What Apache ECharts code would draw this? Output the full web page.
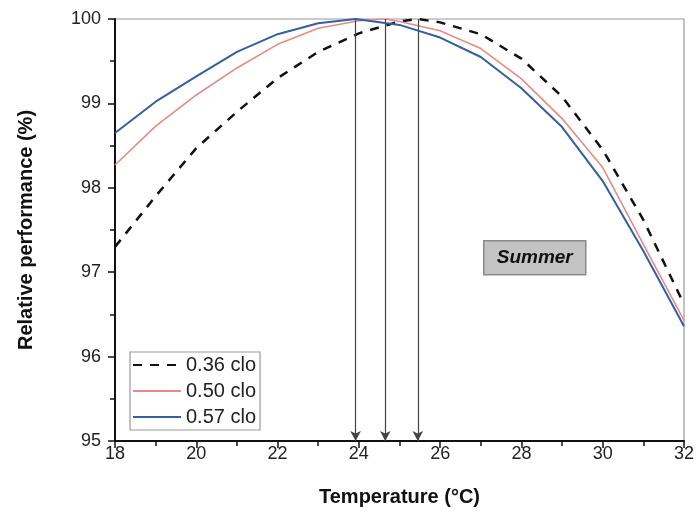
<!DOCTYPE html>
<html>
<head>
<meta charset="utf-8">
<script src="https://cdn.jsdelivr.net/npm/echarts@6/dist/echarts.min.js"></script>
<style>html,body{margin:0;padding:0;background:#fff}#c{width:699px;height:514px}</style>
</head>
<body>
<div id="c"></div>
<script>
var seriesNames = ['0.36 clo', '0.50 clo', '0.57 clo'];
var temps036 = [18, 19, 20, 21, 22, 23, 24, 25, 25.45, 26, 27, 28, 29, 30, 31, 32];
var perf036  = [97.30, 97.90, 98.47, 98.90, 99.30, 99.61, 99.83, 99.97, 100, 99.96, 99.82, 99.53, 99.08, 98.45, 97.62, 96.62];
var temps050 = [18, 19, 20, 21, 22, 23, 24, 24.65, 25, 26, 27, 28, 29, 30, 31, 32];
var perf050  = [98.27, 98.73, 99.10, 99.42, 99.70, 99.89, 99.98, 100, 99.97, 99.86, 99.65, 99.29, 98.82, 98.24, 97.33, 96.43];
var temps057 = [18, 19, 20, 21, 22, 23, 23.92, 25, 26, 27, 28, 29, 30, 31, 32];
var perf057  = [98.65, 99.02, 99.32, 99.61, 99.82, 99.95, 100, 99.93, 99.78, 99.55, 99.18, 98.72, 98.08, 97.25, 96.36];
var peakTemps = [25.45, 24.65, 23.92];
var annotationText = 'Summer';
var xTitle = 'Temperature (°C)';
var yTitle = 'Relative performance (%)';

function pairs(xs, ys) { return xs.map(function (x, i) { return [x, ys[i]]; }); }
function arrowLine(t) {
  return {
    silent: true,
    symbol: ['none', 'arrow'],
    symbolSize: [8, 10],
    label: { show: false },
    lineStyle: { color: '#444', width: 1.2, type: 'solid' },
    itemStyle: { color: '#222' },
    data: [[{ coord: [t, 100] }, { coord: [t, 95] }]]
  };
}

var FONT = 'Liberation Sans, Arial, sans-serif';
var chart = echarts.init(document.getElementById('c'), null, { renderer: 'canvas' });
chart.setOption({
  animation: false,
  backgroundColor: '#fff',
  grid: { left: 115, right: 15, top: 19, bottom: 73, show: true, borderColor: '#9a9a9a', borderWidth: 1.2, backgroundColor: 'transparent' },
  legend: {
    orient: 'vertical',
    left: 130, top: 352,
    data: seriesNames,
    itemWidth: 48, itemHeight: 14, itemGap: 6,
    padding: [3, 4, 3, 2],
    backgroundColor: '#fff',
    borderColor: '#9a9a9a', borderWidth: 1.2, borderRadius: 0,
    itemStyle: { opacity: 0 },
    textStyle: { fontFamily: FONT, fontSize: 20, color: '#222', lineHeight: 20, padding: [0, 0, 0, 0] }
  },
  xAxis: {
    type: 'value', min: 18, max: 32, interval: 2,
    name: xTitle, nameLocation: 'middle', nameGap: 46,
    nameTextStyle: { fontFamily: FONT, fontSize: 20, fontWeight: 'bold', color: '#111' },
    axisLine: { show: true, lineStyle: { color: '#111', width: 2 } },
    axisTick: { show: true, inside: false, length: 7, lineStyle: { color: '#111', width: 1.5 } },
    minorTick: { show: true, splitNumber: 2, length: 5, lineStyle: { color: '#111', width: 1.5 } },
    splitLine: { show: false },
    axisLabel: { fontFamily: FONT, fontSize: 18, color: '#222', margin: 4 }
  },
  yAxis: {
    type: 'value', min: 95, max: 100, interval: 1,
    name: yTitle, nameLocation: 'middle', nameGap: 79, nameRotate: 90,
    nameTextStyle: { fontFamily: FONT, fontSize: 20, fontWeight: 'bold', color: '#111' },
    axisLine: { show: true, lineStyle: { color: '#111', width: 2 } },
    axisTick: { show: true, inside: false, length: 7, lineStyle: { color: '#111', width: 1.5 } },
    minorTick: { show: true, splitNumber: 2, length: 5, lineStyle: { color: '#111', width: 1.5 } },
    splitLine: { show: false },
    axisLabel: { fontFamily: FONT, fontSize: 18, color: '#222', margin: 14 }
  },
  series: [
    {
      name: seriesNames[0], type: 'line', symbol: 'none', z: 3,
      data: pairs(temps036, perf036),
      lineStyle: { color: '#111', width: 2.5, type: [9, 8] },
      itemStyle: { color: '#111' },
      markLine: arrowLine(peakTemps[0])
    },
    {
      name: seriesNames[1], type: 'line', symbol: 'none', z: 4,
      data: pairs(temps050, perf050),
      lineStyle: { color: '#ea8a86', width: 1.6 },
      itemStyle: { color: '#ea8a86' },
      markLine: arrowLine(peakTemps[1])
    },
    {
      name: seriesNames[2], type: 'line', symbol: 'none', z: 5,
      data: pairs(temps057, perf057),
      lineStyle: { color: '#34609f', width: 2 },
      itemStyle: { color: '#34609f' },
      markLine: arrowLine(peakTemps[2])
    }
  ],
  graphic: [{
    type: 'group', left: 483, top: 240,
    children: [
      { type: 'rect', shape: { x: 0, y: 0, width: 102, height: 34 }, style: { fill: '#c3c3c3', stroke: '#8a8a8a', lineWidth: 1.5 } },
      { type: 'text', x: 51, y: 17, style: { text: annotationText, fontFamily: FONT, fontSize: 19, fontWeight: 'bold', fontStyle: 'italic', fill: '#111', align: 'center', verticalAlign: 'middle' } }
    ]
  }]
});
</script>
</body>
</html>
